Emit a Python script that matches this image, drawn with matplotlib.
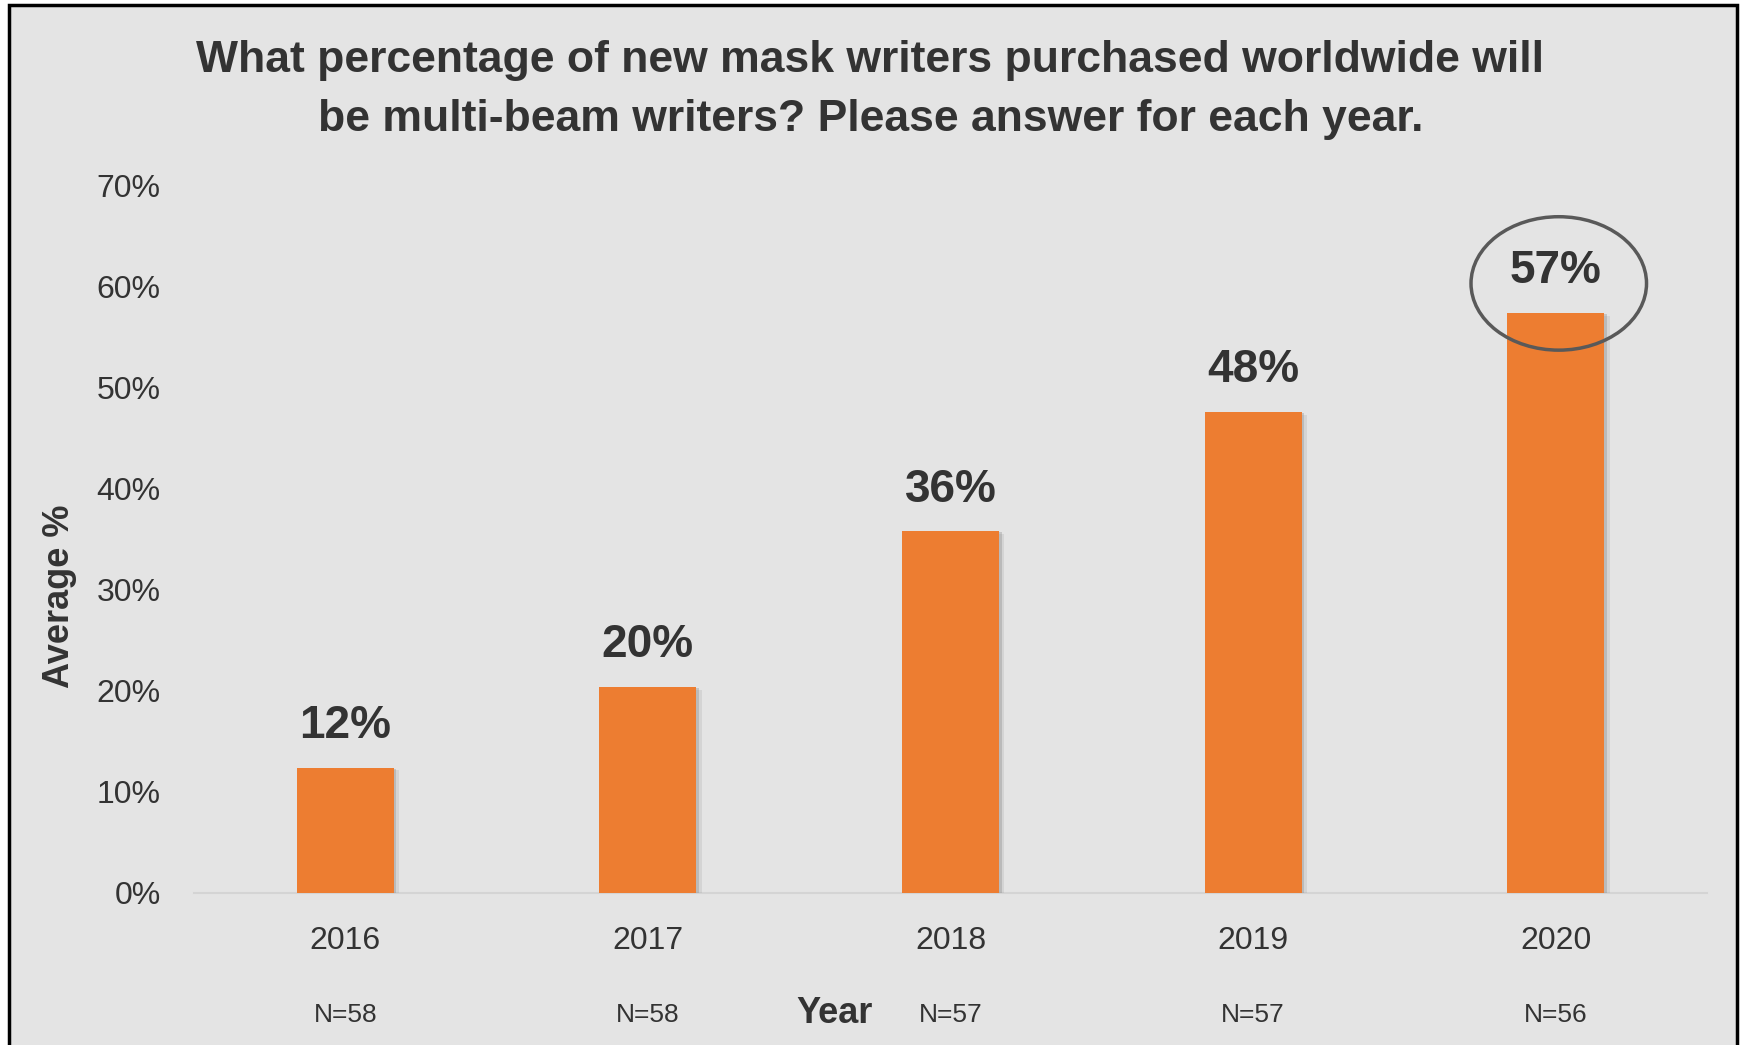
import matplotlib.pyplot as plt
from matplotlib.patches import Ellipse, Rectangle
import matplotlib.patheffects as pe

years = ["2016", "2017", "2018", "2019", "2020"]
average_pct = [12.4, 20.4, 35.8, 47.6, 57.4]
sample_sizes = ["N=58", "N=58", "N=57", "N=57", "N=56"]
y_ticks = [0, 10, 20, 30, 40, 50, 60, 70]

title = ("What percentage of new mask writers purchased worldwide will\n"
         "be multi-beam writers? Please answer for each year.")

BG = "#e4e4e4"
ORANGE = "#ed7d31"
TEXT = "#333333"

plt.rcParams["font.family"] = ["Liberation Sans Narrow", "Liberation Sans", "DejaVu Sans"]

fig = plt.figure(figsize=(17.41, 10.45), dpi=100, facecolor="white")

# grey panel with a black frame, behind everything
fig.patches.append(Rectangle((0.0052, -0.01), 0.9925, 1.0052, transform=fig.transFigure,
                             facecolor=BG, edgecolor="black", linewidth=2.5, zorder=-10))

ax = fig.add_axes([0.1114, 0.1455, 0.8691, 0.6771])
ax.patch.set_visible(False)

x = list(range(len(years)))
bars = ax.bar(x, average_pct, width=0.32, color=ORANGE, zorder=3)
for b in bars:
    b.set_path_effects([
        pe.SimplePatchShadow(offset=(4, -2), shadow_rgbFace="#8c8c8c", alpha=0.18),
        pe.SimplePatchShadow(offset=(2, -1), shadow_rgbFace="#7f7f7f", alpha=0.3),
        pe.Normal()])

for xi, v in zip(x, average_pct):
    ax.annotate(f"{v:.0f}%", (xi, v), xytext=(0, 14), textcoords="offset points",
                ha="center", va="bottom", fontsize=33, fontweight="bold", color=TEXT)

ax.set_xlim(-0.5, len(years) - 0.5)
ax.set_ylim(0, 70)
ax.set_yticks(y_ticks)
ax.set_yticklabels([f"{t}%" for t in y_ticks])
ax.set_xticks(x)
ax.set_xticklabels(years)
ax.tick_params(axis="both", length=0, labelsize=23, labelcolor=TEXT)
ax.tick_params(axis="y", pad=24)
ax.tick_params(axis="x", pad=24)

for side in ["top", "right", "left"]:
    ax.spines[side].set_visible(False)
ax.spines["bottom"].set_color("#d4d4d4")
ax.spines["bottom"].set_linewidth(1.5)

# sample size under each year
for xi, n in zip(x, sample_sizes):
    ax.text(xi, -0.173, n, transform=ax.get_xaxis_transform(),
            ha="center", va="center", fontsize=19, color=TEXT)

ax.set_ylabel("Average %", fontsize=26, fontweight="bold", color=TEXT)
ax.yaxis.set_label_coords(-0.077, 0.42)
fig.text(0.4796, 0.030, "Year", ha="center", va="center", fontsize=26,
         fontweight="bold", color=TEXT)

fig.text(0.5, 0.914, title, ha="center", va="center", fontsize=32,
         fontweight="bold", color=TEXT, linespacing=1.58)

# highlight the last year's value
ax.add_patch(Ellipse((len(years) - 1 + 0.01, average_pct[-1] + 2.9), 0.58, 13.2,
                     fill=False, edgecolor="#595959", linewidth=2.5, zorder=4))

fig.savefig("out.png", dpi=100, facecolor="white")
